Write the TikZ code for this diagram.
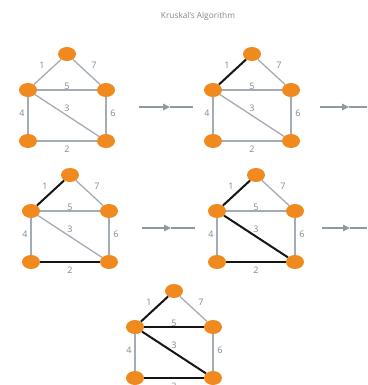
\documentclass[tikz,border=0pt]{standalone}
\usepackage{fontspec}
\setmainfont{Open Sans}
\usetikzlibrary{shapes.geometric,arrows.meta}
\definecolor{orng}{HTML}{F08A1F}
\definecolor{edgegray}{HTML}{A3ABB4}
\definecolor{labgray}{HTML}{7F868F}
\definecolor{arrgray}{HTML}{8E99A3}
\definecolor{boldc}{HTML}{151515}
\newcommand{\kgraph}[7]{%
  \node[vtx] (#1t) at (#2+39,#3-36) {};
  \node[vtx] (#1l) at (#2,#3) {};
  \node[vtx] (#1r) at (#2+78,#3) {};
  \node[vtx] (#1bl) at (#2,#3+51) {};
  \node[vtx] (#1br) at (#2+78,#3+51) {};
  \draw[thinedge] (#1t) -- (#1r);
  \draw[thinedge] (#1l) -- (#1bl);
  \draw[thinedge] (#1r) -- (#1br);
  \draw[#4] (#1t) -- (#1l);
  \draw[#5] (#1bl) -- (#1br);
  \draw[#6] (#1l) -- (#1br);
  \draw[#7] (#1l) -- (#1r);
  \node[wlab] (#1w1) at (#2+14,#3-25) {1};
  \node[wlab] (#1w7) at (#2+66,#3-25) {7};
  \node[wlab] (#1w5) at (#2+39,#3-4) {5};
  \node[wlab] (#1w3) at (#2+39,#3+18) {3};
  \node[wlab] (#1w4) at (#2-6,#3+23) {4};
  \node[wlab] (#1w6) at (#2+85,#3+23) {6};
  \node[wlab] (#1w2) at (#2+39,#3+59) {2};
}
\newcommand{\midarrow}[5]{% #1 name, #2 x1, #3 x2, #4 tip x, #5 y
  \coordinate (#1a) at (#2,#5);
  \coordinate (#1m) at (#4,#5);
  \coordinate (#1b) at (#3,#5);
  \draw[arrline,-{Triangle[length=7pt,width=6.5pt]}] (#1a) -- (#1m);
  \draw[arrline] (#1m) -- (#1b);
}
\begin{document}
\begin{tikzpicture}[x=1pt,y=-1pt,
  vtx/.style={ellipse,fill=orng,minimum width=18pt,minimum height=14pt,inner sep=0pt},
  thinedge/.style={draw=edgegray,line width=1.3pt},
  boldedge/.style={draw=boldc,line width=2pt},
  wlab/.style={text=labgray,font=\fontsize{9}{10}\selectfont,inner sep=0pt},
  arrline/.style={draw=arrgray,line width=1.1pt,arrgray},
  title/.style={text=labgray,font=\fontsize{8.3}{10}\selectfont,inner sep=0pt}]
\useasboundingbox (0,0) rectangle (367,385);
\node[title] (ttl) at (198,16) {Kruskal's Algorithm};
\kgraph{a}{28}{90}{thinedge}{thinedge}{thinedge}{thinedge}
\kgraph{b}{213}{90}{boldedge}{thinedge}{thinedge}{thinedge}
\kgraph{c}{31}{211}{boldedge}{boldedge}{thinedge}{thinedge}
\kgraph{d}{217}{211}{boldedge}{boldedge}{boldedge}{thinedge}
\kgraph{e}{135}{327}{boldedge}{boldedge}{boldedge}{boldedge}
\midarrow{p}{139}{193}{170}{107}
\midarrow{q}{320}{367}{349}{107}
\midarrow{s}{142}{195}{171}{228}
\midarrow{u}{322}{367}{350}{228}
\end{tikzpicture}
\end{document}
